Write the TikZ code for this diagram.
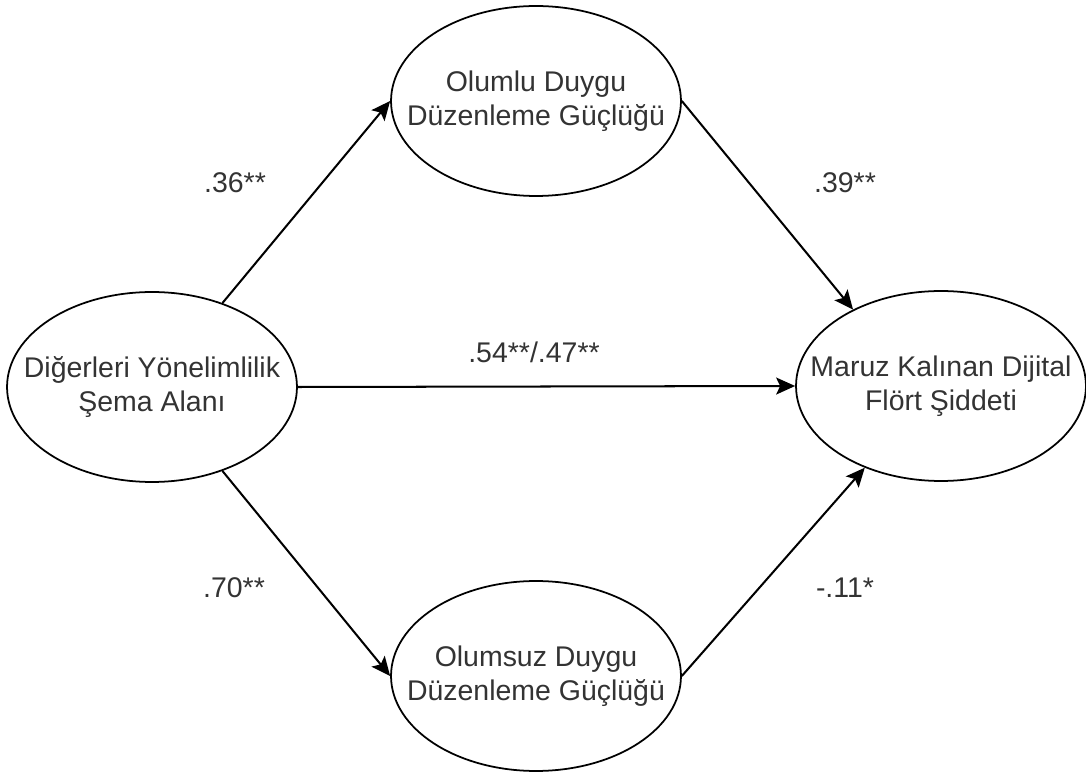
\documentclass[tikz,border=0pt]{standalone}
\usepackage{fontspec}
\setmainfont{Liberation Sans}
\usepackage{tikz}
\usetikzlibrary{arrows.meta,shapes.geometric}
\definecolor{TxtGray}{HTML}{333333}

\begin{document}
\begin{tikzpicture}[x=0.02cm,y=-0.02cm,
  oval/.style={draw,line width=1pt,ellipse,inner sep=0pt,
    minimum width=5.8cm,minimum height=3.8cm},
  ovaltext/.style={align=center,TxtGray,font=\fontsize{16.2pt}{19.3pt}\selectfont},
  coef/.style={TxtGray,font=\fontsize{16.2pt}{19.3pt}\selectfont},
  path/.style={line width=1.15pt,-{Stealth[length=0.38cm,width=0.34cm,inset=0.08cm]}}]
  \useasboundingbox (0,0) rectangle (1086,773);
  % variables
  \node[oval] (dyo) at (152,387) {};
  \node[ovaltext] (dyo-t) at (dyo) {Diğerleri Yönelimlilik\\Şema Alanı};
  \node[oval] (pos) at (536,101) {};
  \node[ovaltext] (pos-t) at (pos) {Olumlu Duygu\\Düzenleme Güçlüğü};
  \node[oval] (neg) at (536,676) {};
  \node[ovaltext] (neg-t) at (neg) {Olumsuz Duygu\\Düzenleme Güçlüğü};
  \node[oval] (dfs) at (941,386) {};
  \node[ovaltext] (dfs-t) at (dfs) {Maruz Kalınan Dijital\\Flört Şiddeti};
  % paths
  \draw[path] (dyo.50) -- (pos.west);
  \draw[path] (pos.east) -- (dfs.139);
  \draw[path] (dyo.east) -- (dfs.west);
  \draw[path] (dyo.-50) -- (neg.west);
  \draw[path] (neg.east) -- (dfs.-133);
  % coefficients
  \node[coef] (c1) at (235,183) {.36**};
  \node[coef] (c2) at (845,183) {.39**};
  \node[coef] (c3) at (534,352) {.54**/.47**};
  \node[coef] (c4) at (234,588) {.70**};
  \node[coef] (c5) at (845,588) {-.11*};
\end{tikzpicture}
\end{document}
